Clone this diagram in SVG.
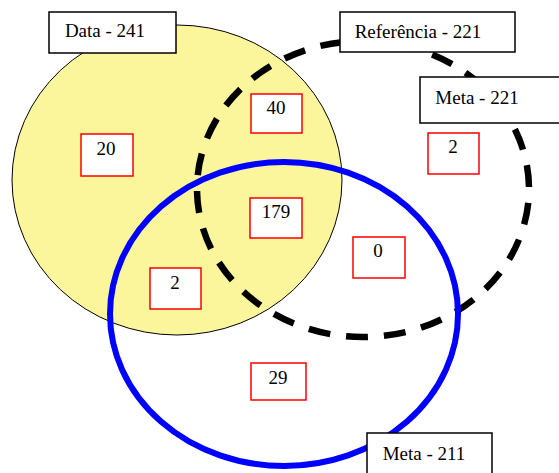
<svg xmlns="http://www.w3.org/2000/svg" width="559" height="473" viewBox="0 0 559 473">
  <style>
    text { font-family: "Liberation Serif", "Times New Roman", serif; font-size: 19px; fill: #000; text-anchor: middle; }
    .label { fill: #fff; stroke: #000; stroke-width: 1.5; }
    .count { fill: #fff; stroke: #ff0000; stroke-width: 1.5; }
  </style>
  <rect width="559" height="473" fill="#fff"/>

  <!-- set outlines -->
  <g id="set-data">
    <ellipse cx="177" cy="180" rx="165" ry="155" fill="#fbf59c" stroke="#000" stroke-width="1"/>
  </g>
  <g id="set-referencia">
    <ellipse cx="363" cy="189" rx="166" ry="148" fill="none" stroke="#000" stroke-width="6.5" pathLength="988" stroke-dasharray="22 16" stroke-dashoffset="24"/>
  </g>
  <g id="set-meta">
    <ellipse cx="284" cy="314" rx="174" ry="152" fill="none" stroke="#0000ff" stroke-width="6"/>
  </g>

  <!-- set titles -->
  <g id="title-data">
    <rect class="label" x="49" y="12" width="127" height="41"/>
    <text x="105" y="37">Data - 241</text>
  </g>
  <g id="title-referencia">
    <rect class="label" x="340" y="12" width="175" height="40"/>
    <text x="418" y="38">Referência - 221</text>
  </g>
  <g id="title-meta-221">
    <rect class="label" x="420" y="77" width="145" height="46"/>
    <text x="477" y="104">Meta - 221</text>
  </g>
  <g id="title-meta-211">
    <rect class="label" x="367" y="433" width="125" height="46"/>
    <text x="424" y="460">Meta - 211</text>
  </g>

  <!-- region counts -->
  <g id="count-data-only">
    <rect class="count" x="81" y="134" width="52" height="42"/>
    <text x="106" y="155">20</text>
  </g>
  <g id="count-data-ref">
    <rect class="count" x="251" y="94" width="51" height="39"/>
    <text x="276" y="114">40</text>
  </g>
  <g id="count-ref-only">
    <rect class="count" x="428" y="133" width="51" height="41"/>
    <text x="453" y="153">2</text>
  </g>
  <g id="count-all">
    <rect class="count" x="250" y="198" width="52" height="40"/>
    <text x="276" y="218">179</text>
  </g>
  <g id="count-ref-meta">
    <rect class="count" x="353" y="237" width="52" height="41"/>
    <text x="378" y="257">0</text>
  </g>
  <g id="count-data-meta">
    <rect class="count" x="150" y="268" width="51" height="41"/>
    <text x="175" y="289">2</text>
  </g>
  <g id="count-meta-only">
    <rect class="count" x="251" y="363" width="55" height="37"/>
    <text x="278" y="384">29</text>
  </g>
</svg>
